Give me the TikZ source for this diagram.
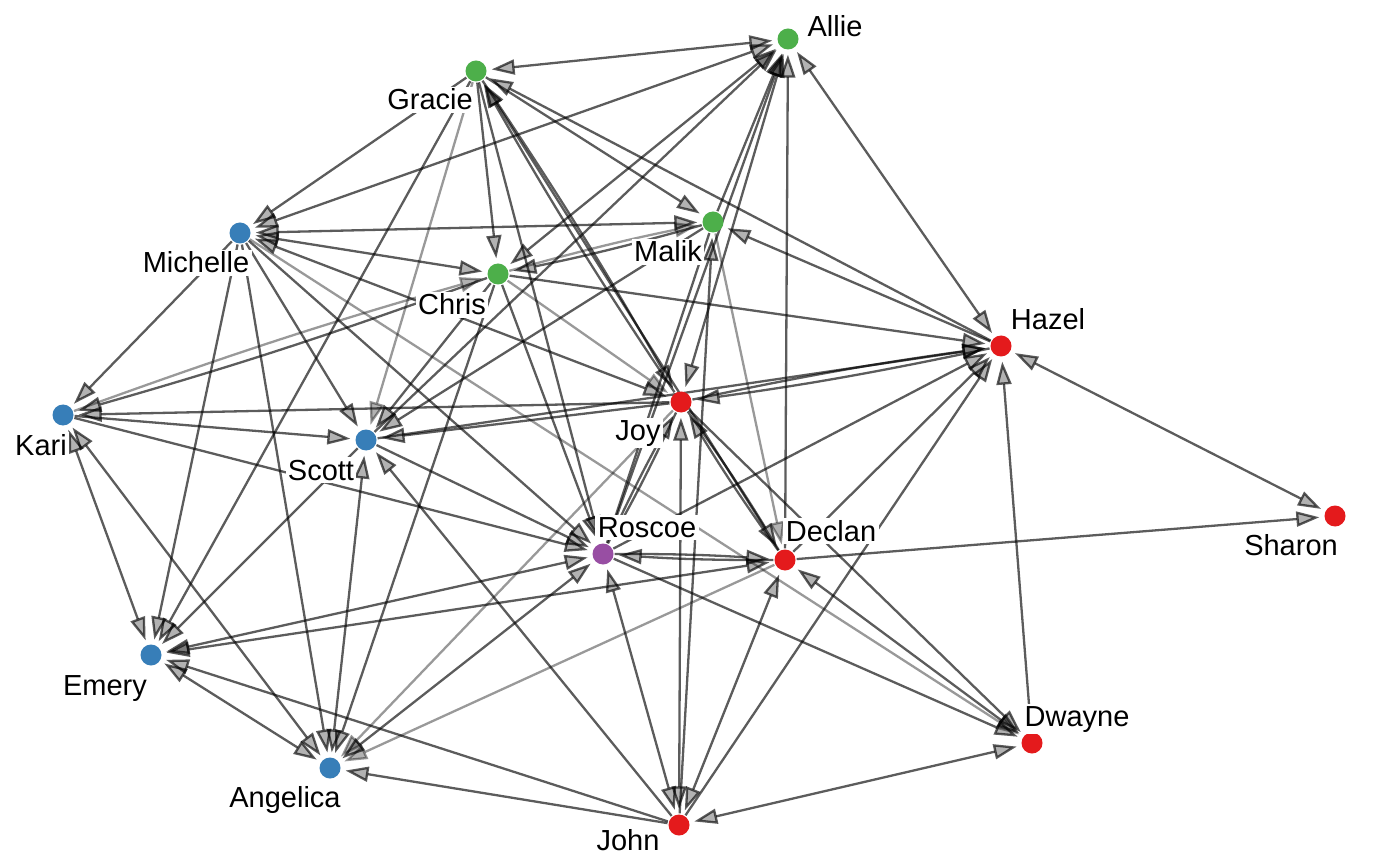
\documentclass[tikz,border=0pt]{standalone}
\usepackage{fontspec}
\setmainfont{Liberation Sans}
\usetikzlibrary{arrows.meta}
\pgfdeclarelayer{bglayer}
\pgfdeclarelayer{edgelayer}
\pgfsetlayers{bglayer,edgelayer,main}
\definecolor{cgreen}{HTML}{4DAF4A}
\definecolor{cblue}{HTML}{377EB8}
\definecolor{cred}{HTML}{E41A1C}
\definecolor{cpurple}{HTML}{984EA3}
\begin{document}
\begin{tikzpicture}[x=0.5pt,y=-0.5pt,
  vtx/.style={circle,minimum size=10.5pt,inner sep=0pt,outer sep=0.6pt},
  gv/.style={vtx,fill=cgreen},
  bv/.style={vtx,fill=cblue},
  rv/.style={vtx,fill=cred},
  pv/.style={vtx,fill=cpurple},
  lbl/.style={fill=white,inner sep=1.2pt,anchor=base,font=\fontsize{14.5}{16}\selectfont},
  tip/.tip={Triangle[length=11.5pt,width=7.5pt]},
  ed/.style={draw=black,line width=1.15pt,draw opacity=0.64,fill opacity=0.3,-tip,shorten >=2pt},
  bi/.style={ed,tip-tip,shorten <=2pt},
  lt/.style={draw opacity=0.4},
  bd/.style={bend left=2}
]
\begin{pgfonlayer}{bglayer}
\fill[white] (0,0) rectangle (1400,865);
\end{pgfonlayer}
\useasboundingbox (0,0) rectangle (1400,865);

% vertices
\node[gv] (Al) at (788,39) {};
\node[gv] (Gr) at (476,71) {};
\node[bv] (Mi) at (240,233) {};
\node[gv] (Ma) at (713,222) {};
\node[gv] (Ch) at (498,274) {};
\node[rv] (Ha) at (1001,346) {};
\node[rv] (Jo) at (681,402) {};
\node[bv] (Ka) at (63,415) {};
\node[bv] (Sc) at (366,440) {};
\node[rv] (Sh) at (1335,516) {};
\node[pv] (Ro) at (603,554) {};
\node[rv] (De) at (785,560) {};
\node[bv] (Em) at (151,655) {};
\node[rv] (Dw) at (1032,743) {};
\node[bv] (An) at (330,768) {};
\node[rv] (Jn) at (679,825) {};

% labels
\node[lbl] (lAl) at (835,37) {Allie};
\node[lbl] (lGr) at (430,110) {Gracie};
\node[lbl] (lMi) at (196,273) {Michelle};
\node[lbl] (lMa) at (668,262) {Malik};
\node[lbl] (lCh) at (452,315) {Chris};
\node[lbl] (lHa) at (1048,330) {Hazel};
\node[lbl] (lJo) at (638,440) {Joy};
\node[lbl] (lKa) at (41,455) {Kari};
\node[lbl] (lSc) at (321,480) {Scott};
\node[lbl] (lSh) at (1291,555) {Sharon};
\node[lbl] (lRo) at (647,537) {Roscoe};
\node[lbl] (lDe) at (831,541) {Declan};
\node[lbl] (lEm) at (105,695) {Emery};
\node[lbl] (lDw) at (1077,726) {Dwayne};
\node[lbl] (lAn) at (285,807) {Angelica};
\node[lbl] (lJn) at (628,850) {John};

\begin{pgfonlayer}{edgelayer}
% mutual pairs, single line
\draw[bi] (Gr) -- (Al);
\draw[bi] (Mi) -- (Al);
\draw[bi] (Mi) -- (Ma);
\draw[bi] (Mi) -- (Ch);
\draw[bi] (Mi) -- (Jo);
\draw[bi] (Ch) -- (Al);
\draw[bi] (Al) -- (Jo);
\draw[bi] (Ha) -- (Al);
\draw[bi] (Jo) -- (Jn);
\draw[bi] (An) -- (Sc);
\draw[bi] (Ka) -- (Em);
\draw[bi] (Ka) -- (An);
\draw[bi] (Ro) -- (Em);
\draw[bi] (De) -- (Em);
\draw[bi] (Em) -- (An);
\draw[bi] (Ro) -- (Jn);
\draw[bi] (De) -- (Dw);
\draw[bi] (De) -- (Jn);
\draw[bi] (Dw) -- (Jn);
\draw[bi] (Ha) -- (Sh);
\draw[bi] (Ro) -- (An);
% mutual pairs, double line
\draw[ed,bd] (Gr) to (Jo);
\draw[ed,bd] (Jo) to (Gr);
\draw[ed,bd] (Jo) to (Ha);
\draw[ed,bd] (Ha) to (Jo);
\draw[ed,bd] (Jo) to (De);
\draw[ed,bd] (De) to (Jo);
\draw[ed,bd] (Ma) to (Ch);
\draw[ed,bd,lt] (Ch) to (Ma);
\draw[ed,bd] (Ch) to (Ka);
\draw[ed,bd,lt] (Ka) to (Ch);
\draw[ed,bd] (Ro) to (De);
\draw[ed,bd] (De) to (Ro);
\draw[ed,bd] (Jo) to (Ro);
\draw[ed,bd] (Ro) to (Jo);
% single direction
\draw[ed] (Gr) -- (Mi);
\draw[ed] (Gr) -- (Ch);
\draw[ed] (Gr) -- (Ro);
\draw[ed] (Gr) -- (Ma);
\draw[ed] (Ha) -- (Gr);
\draw[ed] (Gr) -- (Em);
\draw[ed,lt] (Gr) -- (Sc);
\draw[ed] (De) -- (Gr);
\draw[ed] (Sc) -- (Al);
\draw[ed] (Ma) -- (Al);
\draw[ed] (Ro) -- (Al);
\draw[ed] (De) -- (Al);
\draw[ed] (Mi) -- (Ka);
\draw[ed] (Mi) -- (Em);
\draw[ed] (Mi) -- (An);
\draw[ed] (Mi) -- (Sc);
\draw[ed] (Mi) -- (Ro);
\draw[ed,lt] (Mi) -- (Dw);
\draw[ed] (Ha) -- (Ma);
\draw[ed] (Jn) -- (Ma);
\draw[ed] (Ma) -- (Sc);
\draw[ed] (Ma) -- (Ro);
\draw[ed,lt] (Ma) -- (De);
\draw[ed] (Ch) -- (Ha);
\draw[ed] (Ch) -- (Sc);
\draw[ed] (Ch) -- (An);
\draw[ed] (Ch) -- (Ro);
\draw[ed,lt] (Ch) -- (Jo);
\draw[ed] (Ro) -- (Ha);
\draw[ed] (De) -- (Ha);
\draw[ed] (Jn) -- (Ha);
\draw[ed] (Dw) -- (Ha);
\draw[ed] (Sc) -- (Ha);
\draw[ed] (Jo) -- (Ka);
\draw[ed,lt] (Jo) -- (An);
\draw[ed] (Jo) -- (Dw);
\draw[ed] (Jo) -- (Sc);
\draw[ed] (Ka) -- (Sc);
\draw[ed] (Sc) -- (Em);
\draw[ed] (Jn) -- (Sc);
\draw[ed] (Ka) -- (Ro);
\draw[ed] (Sc) -- (Ro);
\draw[ed] (Ro) -- (Dw);
\draw[ed] (De) -- (Sh);
\draw[ed,lt] (De) -- (An);
\draw[ed] (Jn) -- (An);
\draw[ed] (Jn) -- (Em);
\end{pgfonlayer}
\end{tikzpicture}
\end{document}
